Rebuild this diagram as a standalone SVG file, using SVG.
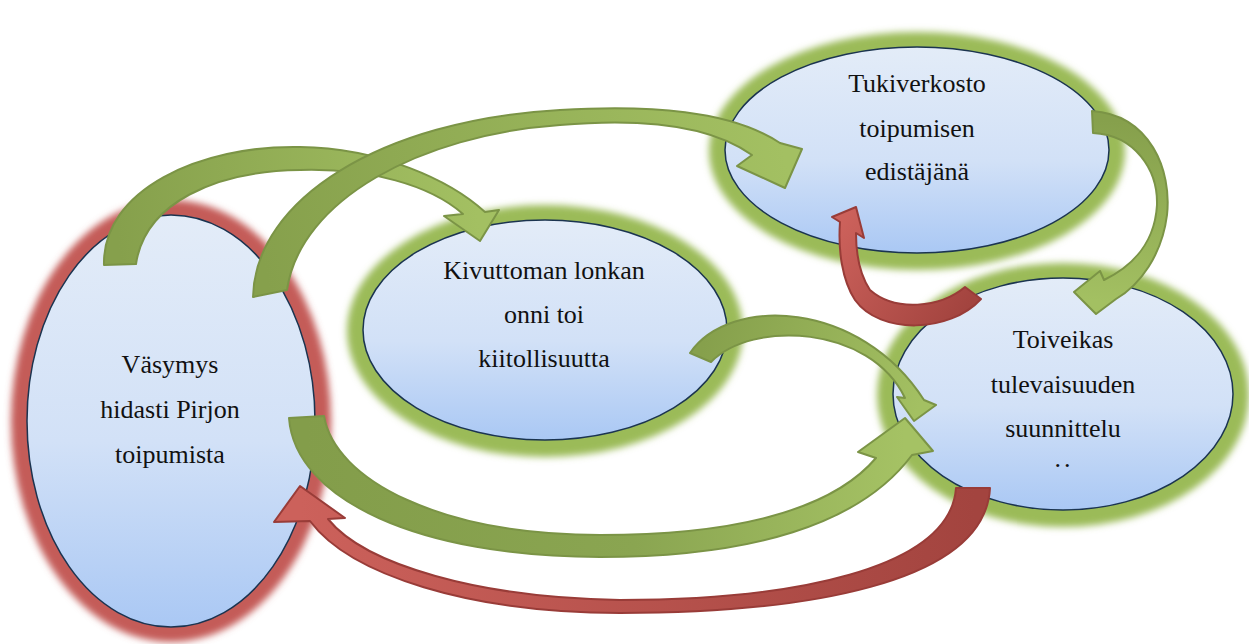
<svg xmlns="http://www.w3.org/2000/svg" width="1249" height="644" viewBox="0 0 1249 644">
  <defs>
    <!-- bubble fill: pale blue at the top, deeper blue at the bottom -->
    <linearGradient id="bubble" x1="0" y1="0" x2="0" y2="1">
      <stop offset="0" stop-color="#e3ecf8"/>
      <stop offset="0.55" stop-color="#d2e1f7"/>
      <stop offset="1" stop-color="#aac8f4"/>
    </linearGradient>
    <filter id="halo" x="-20%" y="-20%" width="140%" height="140%">
      <feGaussianBlur stdDeviation="3.5"/>
    </filter>
    <!-- curved block arrows: darker at the tail, lighter at the head -->
    <linearGradient id="gA1" gradientUnits="userSpaceOnUse" x1="120" y1="265" x2="480" y2="240">
      <stop offset="0" stop-color="#86a04c"/><stop offset="1" stop-color="#a3c062"/>
    </linearGradient>
    <linearGradient id="gA2" gradientUnits="userSpaceOnUse" x1="270" y1="295" x2="790" y2="180">
      <stop offset="0" stop-color="#86a04c"/><stop offset="1" stop-color="#a3c062"/>
    </linearGradient>
    <linearGradient id="gA3" gradientUnits="userSpaceOnUse" x1="700" y1="355" x2="915" y2="420">
      <stop offset="0" stop-color="#86a04c"/><stop offset="1" stop-color="#a3c062"/>
    </linearGradient>
    <linearGradient id="gA4" gradientUnits="userSpaceOnUse" x1="305" y1="430" x2="905" y2="430">
      <stop offset="0" stop-color="#839d4a"/><stop offset="0.55" stop-color="#8aa551"/><stop offset="1" stop-color="#a5c264"/>
    </linearGradient>
    <linearGradient id="gA7" gradientUnits="userSpaceOnUse" x1="1100" y1="120" x2="1085" y2="300">
      <stop offset="0" stop-color="#86a04c"/><stop offset="1" stop-color="#a3c062"/>
    </linearGradient>
    <linearGradient id="gR1" gradientUnits="userSpaceOnUse" x1="975" y1="490" x2="300" y2="490">
      <stop offset="0" stop-color="#a3443f"/><stop offset="1" stop-color="#cc615b"/>
    </linearGradient>
    <linearGradient id="gR2" gradientUnits="userSpaceOnUse" x1="975" y1="295" x2="850" y2="210">
      <stop offset="0" stop-color="#a3443f"/><stop offset="1" stop-color="#cc615b"/>
    </linearGradient>
  </defs>
  <style>
    .halo-green { fill: #9bbb59; filter: url(#halo); }
    .halo-red { fill: #c45c58; filter: url(#halo); }
    .bubble { fill: url(#bubble); stroke: #1b3450; stroke-width: 1.5; }
    .label { font-family: "Liberation Serif", "Times New Roman", serif; font-size: 26px; fill: #111; text-anchor: middle; }
    .arrow-green { stroke: #7b9446; stroke-width: 2; stroke-linejoin: round; }
    .arrow-red { stroke: #993c38; stroke-width: 2; stroke-linejoin: round; }
  </style>

  <rect width="1249" height="644" fill="#ffffff"/>

  <g id="node-vasymys">
    <ellipse class="halo-red" cx="171" cy="421" rx="160" ry="221"/>
    <ellipse class="bubble" cx="171" cy="421" rx="144" ry="206"/>
    <text class="label" font-family="Liberation Serif, serif" x="170" y="373">Väsymys</text>
    <text class="label" font-family="Liberation Serif, serif" x="170" y="418">hidasti Pirjon</text>
    <text class="label" font-family="Liberation Serif, serif" x="170" y="463">toipumista</text>
  </g>

  <g id="node-kivuttoman">
    <ellipse class="halo-green" cx="545" cy="331" rx="198" ry="126"/>
    <ellipse class="bubble" cx="545" cy="330" rx="182" ry="110"/>
    <text class="label" font-family="Liberation Serif, serif" x="544" y="279">Kivuttoman lonkan</text>
    <text class="label" font-family="Liberation Serif, serif" x="544" y="323">onni toi</text>
    <text class="label" font-family="Liberation Serif, serif" x="544" y="367">kiitollisuutta</text>
  </g>

  <g id="node-tukiverkosto">
    <ellipse class="halo-green" cx="917" cy="151" rx="208" ry="119"/>
    <ellipse class="bubble" cx="917" cy="150" rx="192" ry="103"/>
    <text class="label" font-family="Liberation Serif, serif" x="917" y="92">Tukiverkosto</text>
    <text class="label" font-family="Liberation Serif, serif" x="917" y="137">toipumisen</text>
    <text class="label" font-family="Liberation Serif, serif" x="917" y="180">edistäjänä</text>
  </g>

  <g id="node-toiveikas">
    <ellipse class="halo-green" cx="1063" cy="395" rx="186" ry="132"/>
    <ellipse class="bubble" cx="1063" cy="394" rx="170" ry="116"/>
    <text class="label" font-family="Liberation Serif, serif" x="1063" y="348">Toiveikas</text>
    <text class="label" font-family="Liberation Serif, serif" x="1063" y="393">tulevaisuuden</text>
    <text class="label" font-family="Liberation Serif, serif" x="1063" y="437">suunnittelu</text>
    <text class="label" font-family="Liberation Serif, serif" x="1064" y="467" letter-spacing="3">..</text>
  </g>

  <g id="connectors">
    <!-- Väsymys -> Kivuttoman lonkan -->
    <path class="arrow-green" fill="url(#gA1)" d="M104,265 C102,190 200,145 300,147 C380,148 450,180 485,212 L499,210 L480,241 L444,216 L463,214 C430,185 370,168 300,170 C215,171 145,203 136,264 Z"/>
    <!-- Väsymys -> Tukiverkosto -->
    <path class="arrow-green" fill="url(#gA2)" d="M253,297 C255,200 380,120 560,110 C650,105 730,110 780,143 L802,149 L785,188 L737,166 L752,155 C710,125 640,118 560,125 C420,135 300,200 287,290 Z"/>
    <!-- Kivuttoman lonkan -> Toiveikas -->
    <path class="arrow-green" fill="url(#gA3)" d="M690,353 C730,295 860,300 924,400 L936,405 L914,421 L897,397 L905,398 C870,325 752,320 711,362 Z"/>
    <!-- Väsymys -> Toiveikas (lower arc) -->
    <path class="arrow-green" fill="url(#gA4)" d="M289,418 C295,500 420,557 600,557 C750,557 860,525 912,455 L933,451 L905,418 L858,452 L876,458 C830,512 730,535 600,535 C440,535 335,480 324,416 Z"/>
    <!-- Tukiverkosto -> Toiveikas -->
    <path class="arrow-green" fill="url(#gA7)" d="M1092,111 C1150,115 1172,170 1167,215 C1162,255 1140,285 1116,299 L1096,314 L1074,292 L1100,271 L1104,280 C1135,265 1155,240 1157,205 C1158,170 1135,135 1093,133 Z"/>
    <!-- Toiveikas -> Väsymys (red, bottom) -->
    <path class="arrow-red" fill="url(#gR1)" d="M990,488 C985,585 800,613 620,613 C470,613 350,575 310,521 L274,522 L300,486 L345,518 L328,519 C365,565 480,598 620,600 C790,600 950,570 956,488 Z"/>
    <!-- Toiveikas -> Tukiverkosto (red) -->
    <path class="arrow-red" fill="url(#gR2)" d="M981,299 C950,333 880,335 855,300 C842,280 838,250 840,222 L832,217 L856,207 L864,238 L856,233 C856,255 860,275 870,290 C895,312 940,308 965,287 Z"/>
  </g>
</svg>
